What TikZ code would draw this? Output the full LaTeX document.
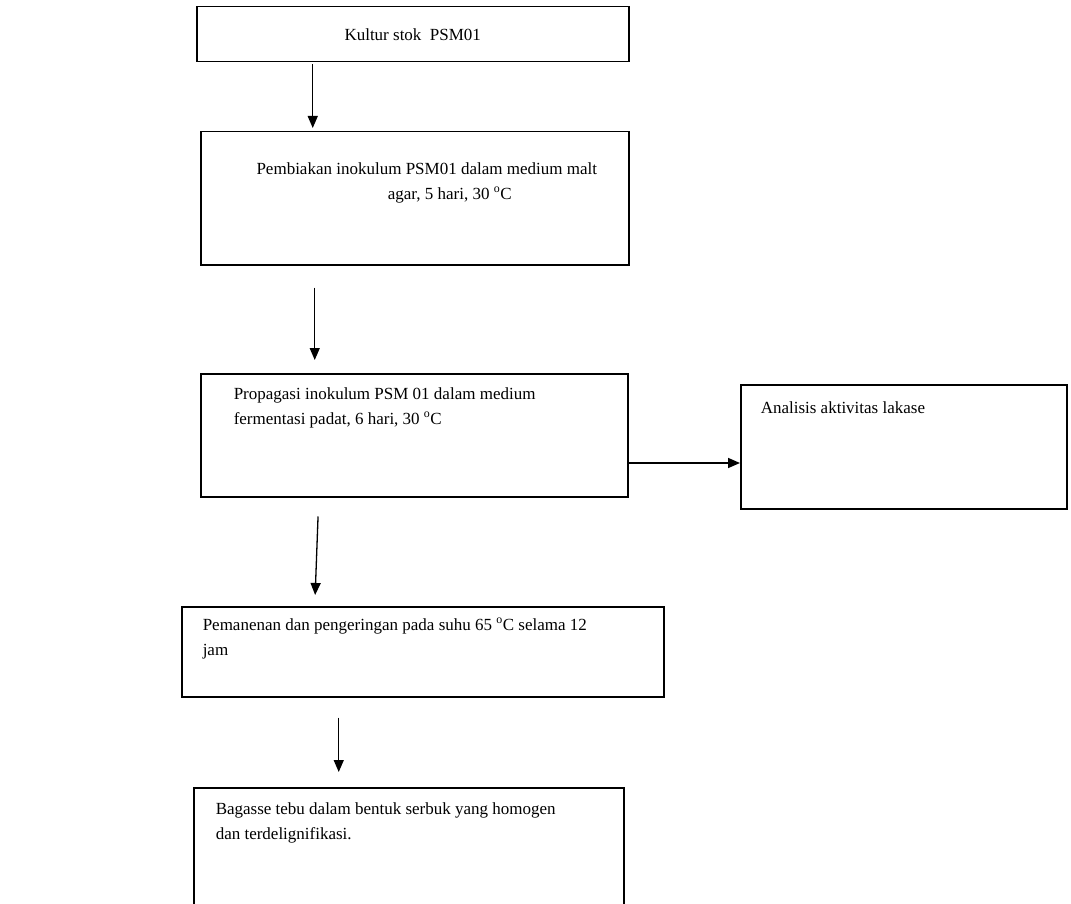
\documentclass[tikz,border=0pt]{standalone}
\usepackage{fontspec}
\setmainfont{Liberation Serif}
\usetikzlibrary{arrows.meta}
\usetikzlibrary{positioning}

% box text: width, height, alignment, top space, text
\newcommand{\flowpar}[5]{\parbox[c][#2][t]{#1}{\vspace*{#4}#3\noindent\strut #5\par}}

\begin{document}
\begin{tikzpicture}[x=1pt,y=-1pt,
		every node/.style={font=\fontsize{17}{25}\selectfont},
		flowbox/.style={draw, line width=1.5pt, inner sep=0pt, anchor=north west},
		flowarrow/.style={-{Triangle[length=12pt,width=10pt]}, line width=1.3pt}]

	\useasboundingbox (0,0) rectangle (1071,904);

	\node[flowbox, minimum width=432pt, minimum height=55pt] (kultur) at (196,6) {Kultur stok\ \ PSM01};
	\node[flowbox] (pembiakan) at (200,131) {\flowpar{428pt}{133pt}{\centering\leftskip=24pt plus 1fil}{25pt}{Pembiakan inokulum PSM01 dalam medium malt\\ \hspace*{46pt}agar, 5 hari, 30 \textsuperscript{o}C}};
	\node[flowbox] (propagasi) at (200,373) {\flowpar{427pt}{123pt}{\raggedright\leftskip=33pt}{8pt}{Propagasi inokulum PSM 01 dalam medium\\ fermentasi padat, 6 hari, 30 \textsuperscript{o}C}};
	\node[flowbox] (analisis) at (740,384) {\flowpar{326pt}{124pt}{\raggedright\leftskip=20pt}{11pt}{Analisis aktivitas lakase}};
	\node[flowbox] (panen) at (181,606) {\flowpar{482pt}{90pt}{\raggedright\leftskip=21pt}{6pt}{Pemanenan dan pengeringan pada suhu 65 \textsuperscript{o}C selama 12\\ jam}};
	\node[flowbox] (bagasse) at (193,787) {\flowpar{430pt}{140pt}{\raggedright\leftskip=22pt}{9pt}{Bagasse tebu dalam bentuk serbuk yang homogen\\ dan terdelignifikasi.}};

	\draw[flowarrow, shorten <=2pt, shorten >=3pt] ([xshift=-100pt]kultur.south) -- ([xshift=-102pt]pembiakan.north);
	\draw[flowarrow, shorten <=22pt, shorten >=13pt] ([xshift=-100pt]pembiakan.south) -- ([xshift=-99.5pt]propagasi.north);
	\draw[flowarrow, line width=1.6pt] (propagasi.east |- 0,463) -- (analisis.west |- 0,463);
	\draw[flowarrow, shorten <=19pt, shorten >=11pt] ([xshift=-95.5pt]propagasi.south) -- ([xshift=-108pt]panen.north);
	\draw[flowarrow, shorten <=20pt, shorten >=15pt] ([xshift=-84pt]panen.south) -- ([xshift=-70pt]bagasse.north);
\end{tikzpicture}
\end{document}
